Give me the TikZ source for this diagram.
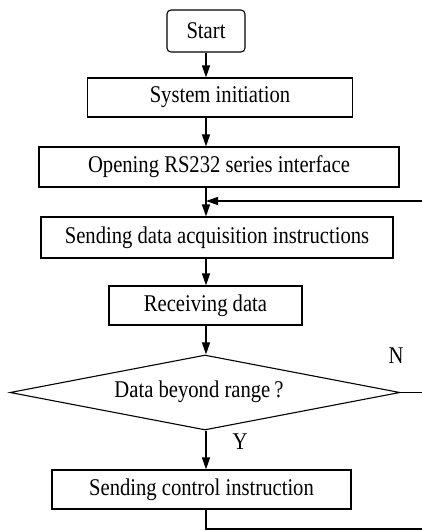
\documentclass[tikz,border=0pt]{standalone}
\usepackage{fontspec}
\setmainfont[FakeStretch=0.86]{Liberation Serif}
\usetikzlibrary{shapes.geometric,arrows.meta}

\begin{document}
\begin{tikzpicture}[
      x=1pt, y=-1pt,
      every node/.style={font=\fontsize{24}{28}\selectfont},
      box/.style={draw, line width=1.1pt, inner sep=0pt, minimum height=40pt},
      decision/.style={draw, diamond, line width=1.1pt, inner sep=0pt,
        minimum width=390pt, minimum height=75pt},
      flow/.style={-{Triangle[length=12pt,width=8pt]}, line width=1.1pt},
      link/.style={line width=1.1pt}
    ]
    \useasboundingbox (0,0) rectangle (422,531);
    \node[box, rounded corners=4pt, minimum width=78pt, minimum height=42pt] (start) at (206,31) {Start};
    \node[box, minimum width=265pt, minimum height=39pt] (init) at (220,97.5) {System initiation};
    \node[box, minimum width=360pt] (rs232) at (219,167) {Opening RS232 series interface};
    \node[box, minimum width=352pt, minimum height=41pt] (acquire) at (217,237.5) {Sending data acquisition instructions};
    \node[box, minimum width=193pt, minimum height=39pt] (receive) at (205.5,305.5) {Receiving data};
    \node[decision] (range) at (205,392.5) {};
    \node (rangetext) at (199,392) {Data beyond range\,?};
    \node[box, minimum width=299pt, minimum height=39pt] (control) at (201.5,489.5) {Sending control instruction};
    \node (yes) at (240,442) {Y};
    \node (no) at (396,356) {N};
    \coordinate (join) at (206,201);
    \coordinate (corner) at (206,529);
    \coordinate (edge) at (425,529);
    \draw[flow] (start.south) -- (start.south |- init.north);
    \draw[flow] (init.south -| start) -- (rs232.north -| start);
    \draw[flow] (rs232.south -| start) -- (acquire.north -| start);
    \draw[flow] (acquire.south -| start) -- (receive.north -| start);
    \draw[flow] (receive.south -| start) -- (range.north -| start);
    \draw[flow] (range.south -| start) -- (control.north -| start);
    \draw[link] (control.south -| corner) -- (corner) -- (edge) -- (edge |- join);
    \draw[link] (range.east) -- (range.east -| edge);
    \draw[flow] (edge |- join) -- (join);
\end{tikzpicture}
\end{document}
